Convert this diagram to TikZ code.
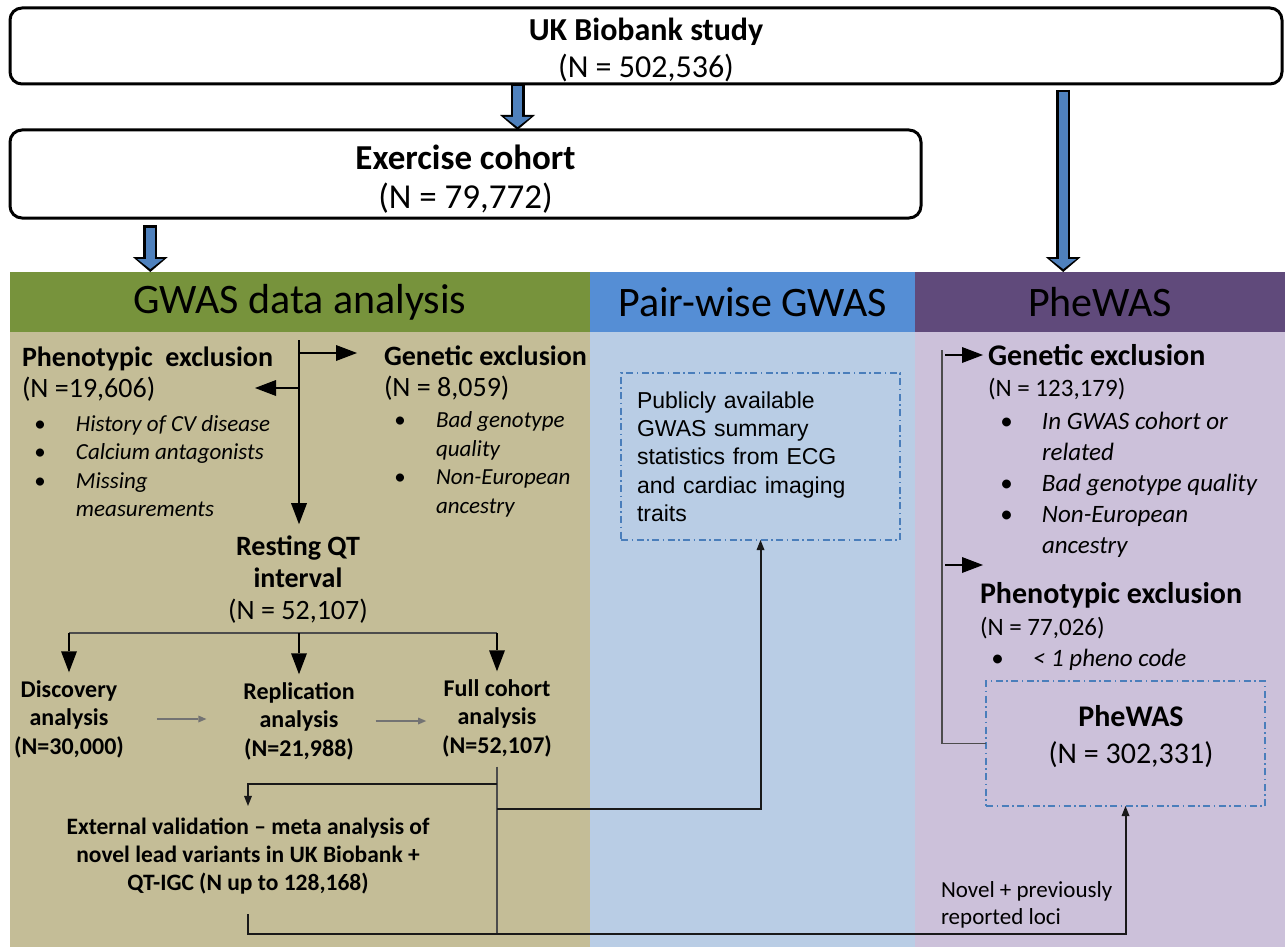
\documentclass[tikz,border=0pt]{standalone}
\usepackage{fontspec}
\setmainfont{Carlito}
\newfontfamily\arialfont{Liberation Sans}
\usetikzlibrary{arrows.meta, positioning, calc}

\definecolor{gwasgreen}{HTML}{77933C}
\definecolor{gwastan}{HTML}{C4BD97}
\definecolor{pairblue}{HTML}{558ED5}
\definecolor{pairlight}{HTML}{B9CDE5}
\definecolor{phepurple}{HTML}{604A7B}
\definecolor{phelight}{HTML}{CCC1DA}
\definecolor{arrowblue}{HTML}{4F81BD}
\definecolor{dashblue}{HTML}{4A7EBB}

\newcommand{\blt}{\makebox[42pt][l]{\textbullet}}
\newcommand{\nob}{\hspace*{42pt}}

\begin{document}
\begin{tikzpicture}[x=1pt, y=-1pt,
    every node/.style={inner sep=0pt, outer sep=0pt},
    topbox/.style={draw, line width=3pt, rounded corners=12pt, fill=white, align=center},
    headbox/.style={anchor=north west, minimum height=60pt, font=\fontsize{42}{48}\selectfont},
    dashbox/.style={draw=dashblue, line width=1.5pt, dash pattern=on 7pt off 3.5pt on 1.5pt off 3.5pt},
    ttl/.style={anchor=west, align=left, font=\fontsize{28}{31}\selectfont},
    itemlist/.style={anchor=west, align=left, font=\fontsize{23}{28.5}\selectfont\itshape},
    stage/.style={align=center, font=\fontsize{24}{28.5}\selectfont\bfseries},
    fatarrow/.style={draw=arrowblue, line width=9pt, shorten <=#1+2.5pt, shorten >=3pt,
        -{Triangle[width=26pt, length=10pt, line width=0pt]},
        preaction={draw=black, line width=14pt, shorten <=#1, shorten >=0pt,
            -{Triangle[width=35pt, length=15pt, line width=0pt]}}},
    fatarrow/.default=0pt,
    blackarrow/.style={draw=black, line width=2.5pt, -{Triangle[width=16pt, length=21pt, line width=0pt]}},
    thinarrow/.style={draw=black!55, line width=1.6pt, -{Triangle[width=7pt, length=8pt, line width=0pt]}},
    link/.style={draw=black!90, line width=2pt},
    graylink/.style={draw=black!70, line width=1.6pt},
    tip/.style={-{Triangle[width=8pt, length=10pt, line width=0pt]}}
]

  \useasboundingbox (0,0) rectangle (1285,947);

  % column backgrounds
  \fill[gwastan] (10,332) rectangle (590,947);
  \fill[pairlight] (590,332) rectangle (915,947);
  \fill[phelight] (915,332) rectangle (1285,947);

  \node[headbox, fill=gwasgreen, minimum width=580pt] (gwashead) at (10,272) {GWAS data analysis};
  \node[headbox, fill=pairblue, minimum width=325pt] (pairhead) at (590,272) {Pair-wise GWAS};
  \node[headbox, fill=phepurple, minimum width=370pt] (phehead) at (915,272) {PheWAS};

  % cohort boxes
  \node[topbox, minimum width=1272pt, minimum height=76pt, font=\fontsize{32}{37}\selectfont] (ukb) at (646,46)
      {\rule{0pt}{31pt}\textbf{UK Biobank study}\\(N = 502,536)};
  \node[topbox, minimum width=911pt, minimum height=88pt, font=\fontsize{35}{39}\selectfont] (exc) at (465.5,174)
      {\rule{0pt}{35pt}\textbf{Exercise cohort}\\(N = 79,772)};

  \coordinate (tapU) at ($(ukb.south west)!0.399!(ukb.south east)$);
  \coordinate (tapR) at ($(ukb.south west)!0.828!(ukb.south east)$);
  \coordinate (tapL) at ($(exc.south west)!0.154!(exc.south east)$);
  \draw[fatarrow] (tapU) -- (tapU |- exc.north);
  \draw[fatarrow=6pt] (tapR) -- (tapR |- phehead.north);
  \draw[fatarrow=7pt] (tapL) -- (tapL |- gwashead.north);

  % GWAS data analysis
  \node[ttl] (phenoexc) at (22,374) {\textbf{Phenotypic\ \ exclusion}\\(N =19,606)};
  \node[itemlist] (phenolist) at (34,466) {\blt History of CV disease\\\blt Calcium antagonists\\\blt Missing\\\nob measurements};
  \node[ttl] (genexc) at (384,373) {\textbf{Genetic exclusion}\\(N = 8,059)};
  \node[itemlist] (genlist) at (394,464.5) {\blt Bad genotype\\\nob quality\\\blt Non-European\\\nob ancestry};
  \node[ttl, anchor=center, align=center, font=\fontsize{28}{32}\selectfont] (restqt) at (298,580)
      {\textbf{Resting QT}\\\textbf{interval}\\(N = 52,107)};

  \coordinate (split) at (299,340);
  \draw[blackarrow, shorten >=12pt] (split) -- (split |- restqt.north);
  \draw[blackarrow] ([yshift=-13pt]split) -- ++(58,0);
  \draw[blackarrow] ([yshift=-48pt]split) -- ++(-44,0);

  \node[stage] (disc) at (69,719) {Discovery\\analysis\\(N=30,000)};
  \node[stage] (repl) at (299,721) {Replication\\analysis\\(N=21,988)};
  \node[stage] (full) at (497,718) {Full cohort\\analysis\\(N=52,107)};
  \node[stage, font=\fontsize{23.5}{28}\selectfont\bfseries] (extval) at (248,856)
      {External validation -- meta analysis of\\novel lead variants in UK Biobank +\\QT-IGC (N up to 128,168)};

  \coordinate (fork) at (299,633);
  \draw[graylink] (fork -| disc.north) -- (fork -| full.north);
  \foreach \n in {disc, repl, full}
    \draw[blackarrow, shorten >=8pt] (fork -| \n.north) -- (\n.north);
  \draw[thinarrow, shorten <=33pt, shorten >=37pt] (disc.east) -- (disc.east -| repl.west);
  \draw[thinarrow, shorten <=21pt, shorten >=16pt] (repl.east) -- (repl.east -| full.west);

  % Pair-wise GWAS
  \node[dashbox, anchor=north west, minimum width=279pt, minimum height=167pt, text width=247pt,
      inner xsep=16pt, align=left, font=\arialfont\fontsize{23}{28.3}\selectfont] (pubbox) at (621,373)
      {Publicly available\\GWAS summary\\statistics from ECG\\and cardiac imaging\\traits};

  % PheWAS
  \node[anchor=west, font=\fontsize{30}{34}\selectfont\bfseries] (genttl) at (988,355) {Genetic exclusion};
  \node[anchor=west, font=\fontsize{25}{30}\selectfont] (genn) at (988,389) {(N = 123,179)};
  \node[itemlist, font=\fontsize{25}{31}\selectfont\itshape] (genlist2) at (1000,484.5)
      {\blt In GWAS cohort or\\\nob related\\\blt Bad genotype quality\\\blt Non-European\\\nob ancestry};
  \node[anchor=west, font=\fontsize{30}{34}\selectfont\bfseries] (phettl) at (980,595) {Phenotypic exclusion};
  \node[anchor=west, font=\fontsize{25}{30}\selectfont] (phen) at (980,628) {(N = 77,026)};
  \node[itemlist, font=\fontsize{25}{30}\selectfont\itshape] (phelist) at (991,660) {\blt < 1 pheno code};
  \node[dashbox, anchor=north west, minimum width=279pt, minimum height=125pt] (phebox) at (986,681) {};
  \node[align=center, font=\fontsize{30}{37}\selectfont] (phetxt) at (1131,737) {\textbf{PheWAS}\\(N = 302,331)};
  \node[anchor=west, align=left, font=\fontsize{23}{27}\selectfont] (novel) at (941,904.5) {Novel + previously\\reported loci};

  \coordinate (rail) at (942,350);
  \coordinate (phemark) at (983,565);
  \draw[graylink] (rail) |- (phebox.west);
  \draw[blackarrow, shorten <=3pt, shorten >=5pt] (rail |- genttl.west) -- (genttl.west);
  \draw[blackarrow, shorten <=3pt] (rail |- phemark) -- (phemark);

  % links between the columns
  \coordinate (low) at (497,934);
  \coordinate (tapV) at (497,784);
  \coordinate (tapP) at (497,809);
  \draw[graylink, shorten <=10pt] (full.south) -- (low);
  \draw[link, tip, shorten >=12pt] (tapV) -| (extval.north);
  \draw[link, tip] (tapP) -| (pubbox.south);
  \draw[link, tip, shorten <=20pt] (extval.south) |- (low) -| (phebox.south);

\end{tikzpicture}
\end{document}
